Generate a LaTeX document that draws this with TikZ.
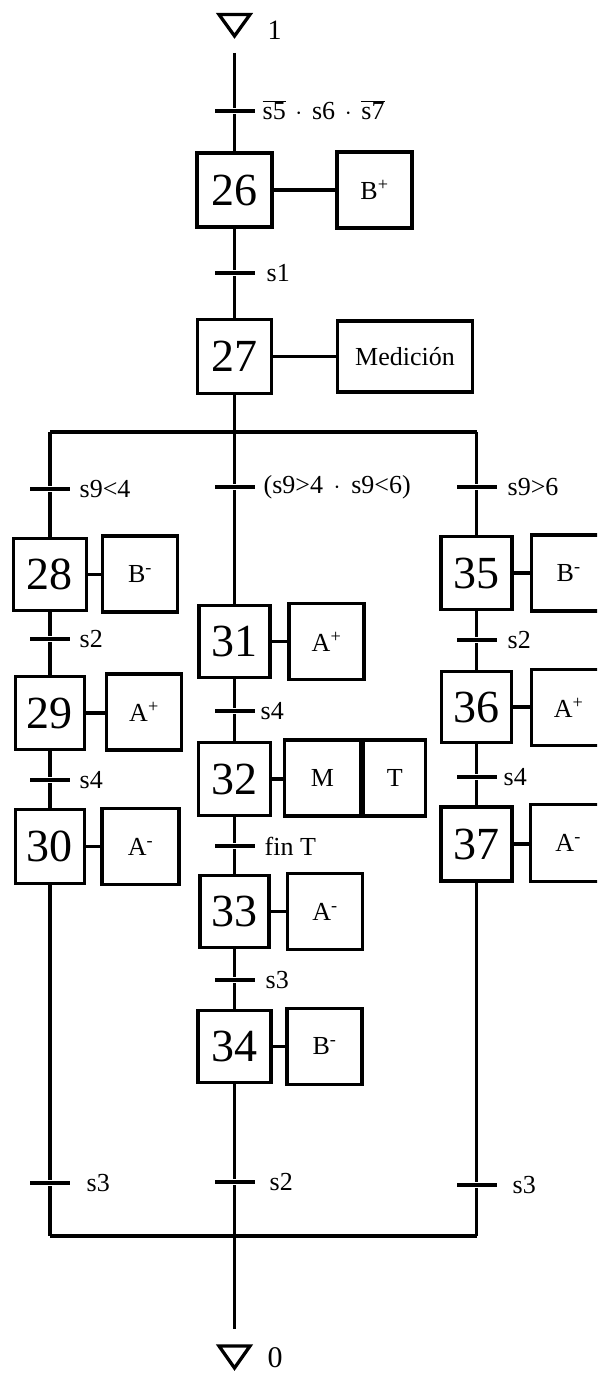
\documentclass[tikz,border=0pt]{standalone}
\usepackage{fontspec}
\setmainfont{Liberation Serif}
\begin{document}
\begin{tikzpicture}[x=1pt,y=-1pt,
  line width=3.3pt,
  stepbox/.style={draw,line width=3.3pt,inner sep=0pt,minimum width=#1,minimum height=74pt,font=\fontsize{46}{46}\selectfont},
  stepbox/.default=74pt,
  actbox/.style={draw,line width=3.3pt,inner sep=0pt,minimum width=#1,minimum height=76pt,font=\fontsize{26}{26}\selectfont},
  actbox/.default=75pt,
  edgebox/.style={actbox=95pt,anchor=west},
  trans/.style={fill=black,inner sep=0pt,minimum width=40pt,minimum height=3.3pt},
  lbl/.style={inner sep=0pt,anchor=west,font=\fontsize{26}{26}\selectfont},
  endlbl/.style={inner sep=0pt,font=\fontsize{28}{28}\selectfont},
]
\useasboundingbox (0,0) rectangle (597,1375);
\clip (0,0) rectangle (597,1375);

% initial / final triangles
\draw[line join=miter] (219,14.5) -- (250,14.5) -- (234.5,36) -- cycle;
\node[endlbl] (one) at (274.5,30) {1};
\draw[line join=miter] (219,1346) -- (250,1346) -- (234.5,1368) -- cycle;
\node[endlbl,font=\fontsize{30}{30}\selectfont] (zero) at (275,1358) {0};

% main column
\coordinate (start) at (234.5,53);
\node[trans] (t1) at (234.5,111) {};
\node[lbl,anchor=base west] (l1) at (261,120) {$\overline{\hbox{s5}}\,\cdot\,\hbox{s6}\,\cdot\,\overline{\hbox{s7}}$};
\node[stepbox=75pt] (s26) at (234.5,190) {26};
\node[actbox] (a26) at (374.5,190) {B\textsuperscript{+}};
\node[trans] (t2) at (234.5,273) {};
\node[lbl] (l2) at (265,273) {s1};
\node[stepbox=74pt] (s27) at (234.5,356.5) {27};
\node[actbox=135pt,minimum height=71pt] (a27) at (405,356.5) {Medición};

\coordinate (divL) at (50,432);
\coordinate (divC) at (234.5,432);
\coordinate (divR) at (476.5,432);

\node[trans] (tM1) at (234.5,487) {};
\node[lbl] (lM1) at (262,487) {(s9>4 $\,\cdot\,$ s9<6)};
\node[stepbox=71pt,minimum height=72pt] (s31) at (234.5,641.5) {31};
\node[actbox] (a31) at (326.5,641.5) {A\textsuperscript{+}};
\node[trans] (tM2) at (234.5,711) {};
\node[lbl] (lM2) at (259,711) {s4};
\node[stepbox=72pt,minimum height=73pt] (s32) at (234.5,779) {32};
\node[actbox=76pt] (aM) at (322.5,778) {M};
\node[actbox=62pt,anchor=west] (aT) at (aM.east) {T};
\node[trans] (tM3) at (234.5,846) {};
\node[lbl] (lM3) at (263,846) {fin T};
\node[stepbox=69pt,minimum height=72pt] (s33) at (234.5,911.5) {33};
\node[actbox] (a33) at (325,911.5) {A\textsuperscript{-}};
\node[trans] (tM4) at (234.5,980) {};
\node[lbl] (lM4) at (264,980) {s3};
\node[stepbox=73pt,minimum height=72pt] (s34) at (234.5,1046.5) {34};
\node[actbox] (a34) at (324.5,1046.5) {B\textsuperscript{-}};
\node[trans] (tM5) at (234.5,1182) {};
\node[lbl] (lM5) at (268,1182) {s2};

\coordinate (conL) at (50,1236);
\coordinate (conC) at (234.5,1236);
\coordinate (conR) at (476.5,1236);
\coordinate (stop) at (234.5,1329);

% left column
\node[trans] (tL1) at (50,489) {};
\node[lbl] (lL1) at (78,489) {s9<4};
\node[stepbox=73pt,minimum height=72pt] (s28) at (50,574.5) {28};
\node[actbox] (a28) at (140,574) {B\textsuperscript{-}};
\node[trans] (tL2) at (50,639) {};
\node[lbl] (lL2) at (78,639) {s2};
\node[stepbox=69pt,minimum height=73pt] (s29) at (50,713) {29};
\node[actbox] (a29) at (144,712) {A\textsuperscript{+}};
\node[trans] (tL3) at (50,780) {};
\node[lbl] (lL3) at (78,780) {s4};
\node[stepbox=69pt] (s30) at (50,846.5) {30};
\node[actbox=77pt] (a30) at (140.5,846.5) {A\textsuperscript{-}};
\node[trans] (tL4) at (50,1183) {};
\node[lbl] (lL4) at (85,1183) {s3};

% right column (action boxes run past the right edge)
\node[trans] (tR1) at (476.5,487) {};
\node[lbl] (lR1) at (506,487) {s9>6};
\node[stepbox=71pt,minimum height=73pt] (s35) at (476.5,573) {35};
\node[edgebox] (a35) at (529.5,573) {\hspace*{-20pt}B\textsuperscript{-}};
\node[trans] (tR2) at (476.5,640) {};
\node[lbl] (lR2) at (506,640) {s2};
\node[stepbox=70pt,minimum height=71pt] (s36) at (476.5,707) {36};
\node[edgebox] (a36) at (529.5,707.5) {\hspace*{-20pt}A\textsuperscript{+}};
\node[trans] (tR3) at (476.5,777) {};
\node[lbl] (lR3) at (502,777) {s4};
\node[stepbox=71pt] (s37) at (476.5,844) {37};
\node[edgebox,minimum height=77pt] (a37) at (529,843) {\hspace*{-20pt}A\textsuperscript{-}};
\node[trans] (tR4) at (476.5,1185) {};
\node[lbl] (lR4) at (511,1185) {s3};

% main flow
\draw (start) -- (t1) -- (s26) -- (t2) -- (s27) -- (divC) -- (tM1) -- (s31)
      -- (tM2) -- (s32) -- (tM3) -- (s33) -- (tM4) -- (s34) -- (tM5) -- (stop);
\draw (divL) -- (divR);
\draw (conL) -- (conR);
\draw (divL) -- (tL1) -- (s28) -- (tL2) -- (s29) -- (tL3) -- (s30) -- (tL4) -- (conL);
\draw (divR) -- (tR1) -- (s35) -- (tR2) -- (s36) -- (tR3) -- (s37) -- (tR4) -- (conR);

% action links
\foreach \s/\a in {s26/a26,s27/a27,s28/a28,s29/a29,s30/a30,s31/a31,s32/aM,s33/a33,s34/a34,s35/a35,s36/a36,s37/a37}
  \draw (\s.east) -- (\a.west |- \s.east);
\end{tikzpicture}
\end{document}
